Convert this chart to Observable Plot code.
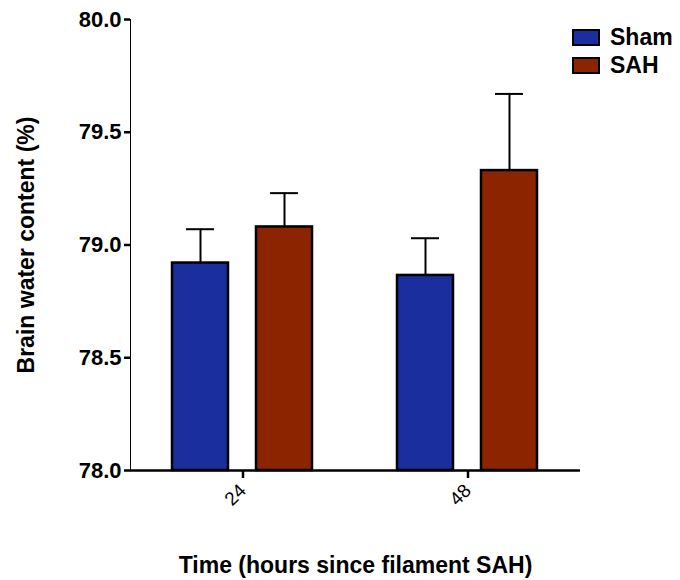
<!DOCTYPE html>
<html>
<head>
<meta charset="utf-8">
<script src="https://cdn.jsdelivr.net/npm/d3@7"></script>
<script src="https://cdn.jsdelivr.net/npm/@observablehq/plot@0.6"></script>
<style>
  html, body { margin: 0; padding: 0; background: #fff; }
  #wrap { position: relative; width: 680px; height: 580px; font-family: "Liberation Sans", Arial, sans-serif; }
  #wrap svg { font-family: "Liberation Sans", Arial, sans-serif; font-weight: bold; font-size: 22px; }
  #wrap svg [aria-label="fx-axis tick label"] text { font-weight: normal; font-size: 19px; }
  #wrap svg [aria-label="y-axis label"] text { font-size: 23px; }
  #wrap svg [aria-label="fx-axis label"] text { font-size: 23px; }
  .legend { position: absolute; left: 572px; top: 23px; }
  .legend .row { display: flex; align-items: center; height: 28px; }
  .legend .sw { width: 28px; height: 17px; box-sizing: border-box; border: 2.5px solid #000; margin-right: 10px; }
  .legend .lab { font-weight: bold; font-size: 23px; color: #000; line-height: 1; }
</style>
</head>
<body>
<div id="wrap"></div>
<script>
// Brain water content (%) after filament SAH, mean ± SEM
const times = ["24", "48"];
const groups = ["Sham", "SAH"];
const groupColors = ["#1a2e9e", "#8c2400"];
const shamMean = [78.92, 78.865];
const shamErr = [0.15, 0.165];
const sahMean = [79.08, 79.33];
const sahErr = [0.15, 0.34];
const yTicks = [78.0, 78.5, 79.0, 79.5, 80.0];

const rows = [];
times.forEach((t, i) => {
  rows.push({time: t, group: "Sham", mean: shamMean[i], upper: shamMean[i] + shamErr[i]});
  rows.push({time: t, group: "SAH", mean: sahMean[i], upper: sahMean[i] + sahErr[i]});
});

const chart = Plot.plot({
  width: 680,
  height: 580,
  marginTop: 19,
  marginBottom: 110,
  marginLeft: 130,
  marginRight: 100,
  facet: {data: rows, x: "time"},
  fx: {
    domain: times,
    padding: 0,
    axis: "bottom",
    tickSize: 8,
    tickPadding: 9,
    tickRotate: -45,
    label: "Time (hours since filament SAH)",
    labelAnchor: "center",
    labelArrow: false,
    labelOffset: 102
  },
  x: {domain: groups, axis: null, paddingInner: 0.33, paddingOuter: 0.49},
  y: {
    domain: [78, 80],
    ticks: yTicks,
    tickFormat: d3.format(".1f"),
    tickSize: 6,
    tickPadding: 3,
    line: true,
    label: "Brain water content (%)",
    labelAnchor: "center",
    labelArrow: false,
    labelOffset: 113
  },
  color: {domain: groups, range: groupColors},
  marks: [
    Plot.ruleX(rows, {x: "group", y1: "mean", y2: "upper", stroke: "#000", strokeWidth: 2}),
    Plot.tickY(rows, {x: "group", y: "upper", stroke: "#000", strokeWidth: 2, insetLeft: 14, insetRight: 14}),
    Plot.barY(rows, {x: "group", y1: 78, y2: "mean", fill: "group", stroke: "#000", strokeWidth: 2.5}),
    Plot.ruleY([78], {stroke: "#000", strokeWidth: 2.5})
  ]
});

const wrap = document.getElementById("wrap");
wrap.appendChild(chart);
chart.querySelectorAll('[aria-label="y-axis tick"], [aria-label="fx-axis tick"]').forEach(g => g.setAttribute("stroke-width", 2.5));

const legend = document.createElement("div");
legend.className = "legend";
groups.forEach((g, i) => {
  const row = document.createElement("div");
  row.className = "row";
  const sw = document.createElement("div");
  sw.className = "sw";
  sw.style.background = groupColors[i];
  const lab = document.createElement("span");
  lab.className = "lab";
  lab.textContent = g;
  row.appendChild(sw);
  row.appendChild(lab);
  legend.appendChild(row);
});
wrap.appendChild(legend);
</script>
</body>
</html>
